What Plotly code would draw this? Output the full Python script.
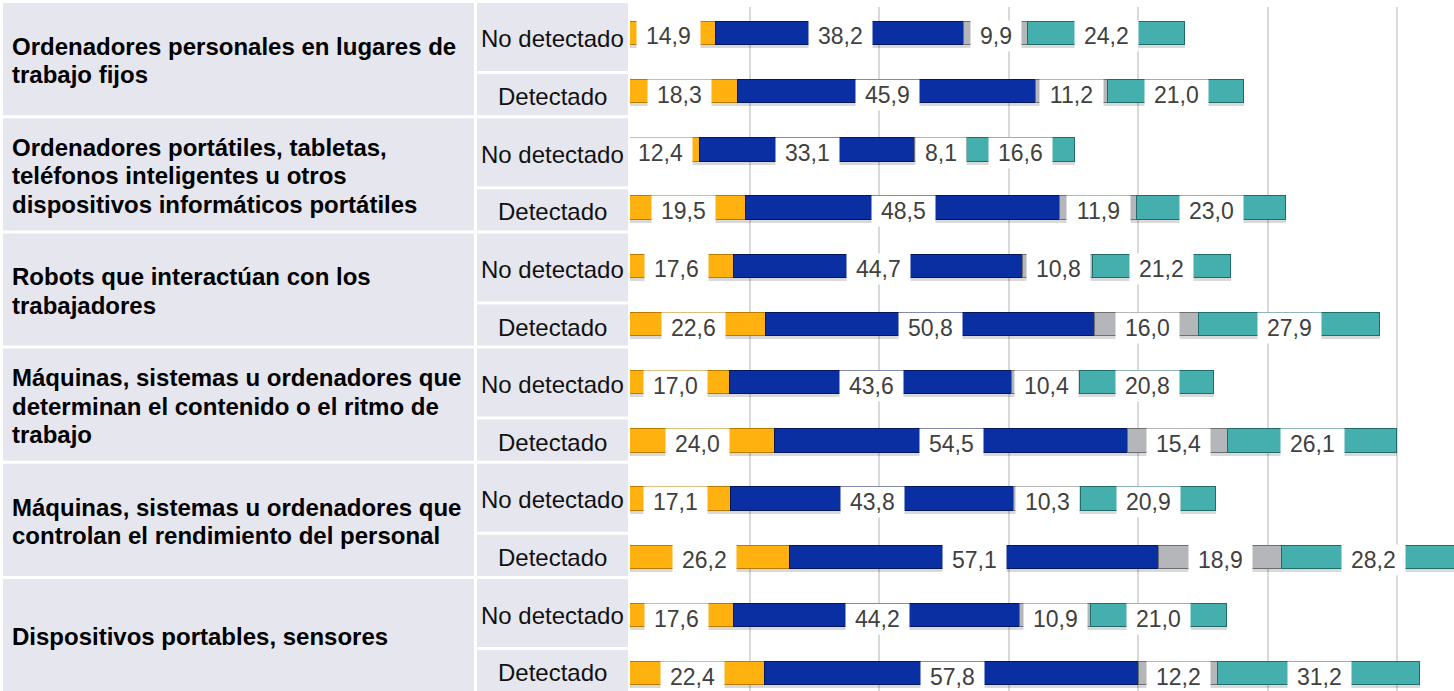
import plotly.graph_objects as go

# figure size in px, everything below is laid out on this
W, H = 1454, 691
family_font = 'Liberation Sans'

grupos = [
    ["Ordenadores personales en lugares de", "trabajo fijos"],
    ["Ordenadores portátiles, tabletas,", "teléfonos inteligentes u otros",
     "dispositivos informáticos portátiles"],
    ["Robots que interactúan con los", "trabajadores"],
    ["Máquinas, sistemas u ordenadores que", "determinan el contenido o el ritmo de",
     "trabajo"],
    ["Máquinas, sistemas u ordenadores que", "controlan el rendimiento del personal"],
    ["Dispositivos portables, sensores"],
]
subgrupos = ["No detectado", "Detectado"]

serie_naranja = [14.9, 18.3, 12.4, 19.5, 17.6, 22.6, 17.0, 24.0, 17.1, 26.2, 17.6, 22.4]
serie_azul = [38.2, 45.9, 33.1, 48.5, 44.7, 50.8, 43.6, 54.5, 43.8, 57.1, 44.2, 57.8]
serie_gris = [9.9, 11.2, 8.1, 11.9, 10.8, 16.0, 10.4, 15.4, 10.3, 18.9, 10.9, 12.2]
serie_turquesa = [24.2, 21.0, 16.6, 23.0, 21.2, 27.9, 20.8, 26.1, 20.9, 28.2, 21.0, 31.2]

series = [
    (serie_naranja, '#FFB10F', '#B97A00'),
    (serie_azul, '#0A2FA3', '#04175A'),
    (serie_gris, '#B5B6BA', '#6E6F73'),
    (serie_turquesa, '#45AFAE', '#1F6C6B'),
]

filas = list(range(len(serie_naranja)))


def px_x(p):
    return p / W


def px_y(p):
    return 1 - p / H


# y scale: row 0 centred at 33.5px, 58.2px per row, plot top at 7px
y_rango = [(H - 33.5) / 58.2, (7 - 33.5) / 58.2]
sombra = 3 / 58.2

fig = go.Figure()

# soft shadow under every bar (base axis, shifted a few px down)
totales = [sum(v) for v in zip(serie_naranja, serie_azul, serie_gris, serie_turquesa)]
fig.add_trace(go.Bar(x=totales, y=filas, orientation='h', width=0.4,
                     marker=dict(color='rgba(0,0,0,0.15)', line_width=0),
                     showlegend=False, hoverinfo='skip', yaxis='y'))

base = [0.0] * len(filas)
annotations = []
for valores, color, borde in series:
    fig.add_trace(go.Bar(x=valores, y=filas, orientation='h', width=0.4,
                         marker=dict(color=color, line=dict(color=borde, width=1)),
                         showlegend=False, hoverinfo='x', yaxis='y2'))
    for i, v in enumerate(valores):
        txt = f"{v:.1f}".replace('.', ',')
        annotations.append(dict(
            x=base[i] + v / 2, y=i, xref='x', yref='y2', yshift=-3,
            text=txt, showarrow=False,
            font=dict(family=family_font, size=23, color='#404040'),
            bgcolor='white', borderpad=2, width=12.8 * (len(txt) - 1) + 20.4))
        base[i] += v

#table on the left
shapes = []
celda = '#E6E6EE'
alto_grupo = 115.2
for g, lineas in enumerate(grupos):
    top = 2 + alto_grupo * g
    bottom = top + alto_grupo
    shapes.append(dict(type='rect', xref='paper', yref='paper', layer='below',
                       x0=px_x(3), x1=px_x(474), y0=px_y(top + 1), y1=px_y(bottom - 2),
                       fillcolor=celda, line_width=0))
    cajas = [(top + 1, top + 69), (top + 72, bottom - 2)]
    for (y0, y1), sub in zip(cajas, subgrupos):
        shapes.append(dict(type='rect', xref='paper', yref='paper', layer='below',
                           x0=px_x(477), x1=px_x(628), y0=px_y(y0), y1=px_y(y1),
                           fillcolor=celda, line_width=0))
        annotations.append(dict(x=px_x(552.5), y=px_y((y0 + y1) / 2 + 2),
                                xref='paper', yref='paper', text=sub, showarrow=False,
                                xanchor='center', yanchor='middle',
                                font=dict(family=family_font, size=24, color='#111111')))
    centro = (top + bottom) / 2
    n = len(lineas)
    for j, linea in enumerate(lineas):
        yy = centro + (j - (n - 1) / 2) * 28.5 + 1
        annotations.append(dict(x=px_x(10), y=px_y(yy), xref='paper', yref='paper',
                                text=f"<b>{linea}</b>", showarrow=False,
                                xanchor='left', yanchor='middle',
                                font=dict(family=family_font, size=24, color='#000000')))

fig.update_layout(
    width=W, height=H, barmode='stack', bargap=0,
    margin=dict(l=0, r=0, t=0, b=0),
    paper_bgcolor='white', plot_bgcolor='white',
    font=dict(family=family_font, color='black'),
    xaxis=dict(domain=[px_x(630), 1], range=[(630 - 620) / 6.475, (W - 620) / 6.475],
               dtick=20, showgrid=True, gridcolor='#D9D9D9', gridwidth=1.5,
               zeroline=False, showticklabels=False, ticks=''),
    yaxis=dict(domain=[0, px_y(7)], range=[y_rango[0] - sombra, y_rango[1] - sombra],
               showgrid=False, zeroline=False, showticklabels=False, ticks=''),
    yaxis2=dict(domain=[0, px_y(7)], range=y_rango, overlaying='y',
                showgrid=False, zeroline=False, showticklabels=False, ticks=''),
    shapes=shapes, annotations=annotations,
)

fig.write_html("out.html", config={'displayModeBar': False},
               post_script="document.body.style.margin='0';")
